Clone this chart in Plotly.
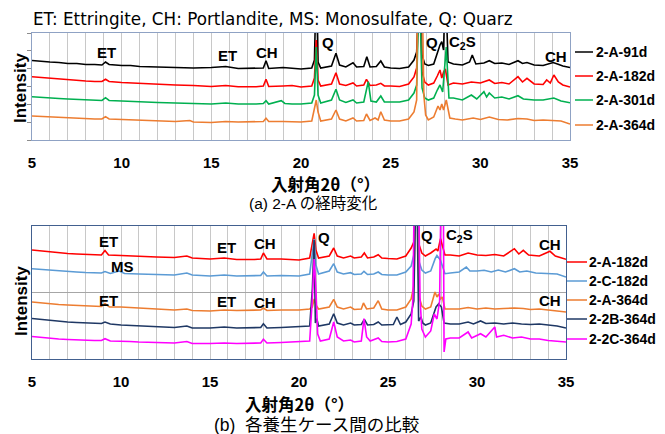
import plotly.graph_objects as go

# The page body has an 8 px margin, so the figure is drawn 8 px in from the
# window's top-left corner; all pixel positions below are window pixels.
PAGE_MARGIN = 8
WIN_W, WIN_H = 665, 434
W, H = WIN_W - PAGE_MARGIN, WIN_H - PAGE_MARGIN
FONT = "Liberation Sans, Arial, Noto Sans CJK JP, sans-serif"
JP_FONT = "Liberation Sans, Noto Sans CJK JP, sans-serif"
CJK_FONT = "Noto Sans CJK JP, sans-serif"

# ---------------- DATA : (2theta [deg], intensity [a.u.]) ----------------
# (a) 2-A, time evolution
A_NAMES = ["2-A-91d", "2-A-182d", "2-A-301d", "2-A-364d"]
A_91D = [(5.0,79.5),(5.5,78.5),(6.0,78),(6.5,77.5),(7.0,76.5),(7.5,76.5),(8.0,75.5),(8.5,75.5),(8.9,75),(9.1,78),(9.3,75.5),(10.0,74.5),(10.5,74.5),(11.0,73.5),(12.0,73),(13.0,72.5),(14.0,72),(15.0,72.5),(15.8,73.5),(16.5,71.5),(17.5,71.5),(17.9,72),(18.05,79.3),(18.2,71.5),(19.0,72.5),(19.5,71.5),(20.0,71),(20.6,72),(20.75,80),(20.85,160),(20.95,78),(21.1,72),(21.7,74),(21.95,86.7),(22.15,75),(22.5,73),(22.9,77.3),(23.1,73),(23.5,73.5),(23.67,83.3),(23.85,73),(24.2,73.5),(24.45,79),(24.65,73),(25.0,72),(25.5,71.5),(26.0,73),(26.3,80),(26.45,88),(26.6,160),(26.75,85),(26.9,76),(27.1,74.5),(27.4,76),(27.6,88),(27.75,95),(27.85,98.3),(27.95,90),(28.05,160),(28.2,78),(28.5,76),(29.0,75),(29.4,78),(29.55,85),(29.75,76),(30.2,77),(30.5,79.3),(30.8,76.5),(31.2,77),(31.6,75.5),(32.1,79.3),(32.35,76.5),(32.6,77.5),(33.0,75),(33.5,74.5),(34.06,77.5),(34.3,76),(34.6,74),(35.0,72.5)]
A_182D = [(5.0,63.3),(5.5,62.5),(6.0,61.5),(6.5,61),(7.0,60),(7.5,59.5),(8.0,59),(8.5,58.5),(8.9,58.5),(9.1,60.7),(9.3,58.5),(10.0,57.5),(10.5,57),(11.0,56.5),(12.0,55.5),(13.0,55),(14.0,54.5),(15.0,53.5),(15.8,54.5),(16.5,53.3),(17.5,53.3),(17.9,54),(18.05,60.7),(18.2,53.5),(19.0,54),(19.5,54.5),(20.0,53),(20.6,54),(20.75,62),(20.85,100),(20.95,60),(21.1,54),(21.7,56),(21.95,67.3),(22.15,56),(22.5,54.5),(22.9,57),(23.1,54),(23.5,55),(23.65,60.7),(23.85,54.5),(24.2,55),(24.45,56.7),(24.65,54),(25.0,54),(25.5,53.5),(26.0,56),(26.3,63),(26.45,72),(26.6,160),(26.75,68),(26.9,58),(27.1,55),(27.4,57),(27.6,64),(27.75,70),(27.85,62),(27.95,68),(28.05,71),(28.2,55),(28.5,57),(29.0,56),(29.5,58),(30.0,57),(30.5,60),(30.8,56.5),(31.2,57.5),(31.6,56),(32.1,63.3),(32.35,58),(32.6,61.7),(33.0,56),(33.5,55.5),(33.7,60),(33.9,57),(34.1,65),(34.35,58),(34.6,55),(35.0,53)]
A_301D = [(5.0,43.3),(5.5,42.5),(6.0,42),(6.5,41.5),(7.0,41),(7.5,40.5),(8.0,40),(8.5,39.5),(8.9,39.5),(9.1,42.3),(9.3,39.5),(10.0,39),(10.5,38.5),(11.0,38),(12.0,37.5),(13.0,37),(14.0,36.5),(15.0,36),(15.8,37),(16.5,36),(17.5,36),(17.9,36.5),(18.05,39.3),(18.2,36),(18.9,39.3),(19.1,36.5),(19.5,36),(20.0,36),(20.6,37),(20.75,45),(20.85,93),(20.95,45),(21.1,37),(21.7,40),(21.95,50.7),(22.15,40),(22.5,37.5),(22.9,40),(23.1,37),(23.5,38),(23.75,58.3),(23.9,39),(24.2,38),(24.45,44),(24.65,38),(25.0,38),(25.5,38),(26.0,40),(26.3,47),(26.45,55),(26.6,160),(26.75,52),(26.9,42),(27.1,40),(27.4,42),(27.6,50),(27.75,55),(27.9,48),(28.1,93),(28.25,42),(28.5,42),(29.0,40),(29.5,45),(29.8,41),(30.2,48.3),(30.35,43),(30.5,47),(30.8,42),(31.2,43),(31.6,41),(32.1,44.3),(32.4,41),(33.0,40),(33.5,40),(34.1,42),(34.5,39),(35.0,37.3)]
A_364D = [(5.0,24),(5.5,23.5),(6.0,23),(6.5,22.5),(7.0,22),(7.5,21.5),(8.0,21.5),(8.5,21),(8.9,21),(9.1,23.3),(9.3,21),(10.0,20.5),(10.5,20),(11.0,19.5),(12.0,19),(13.0,18.5),(13.8,19.5),(14.0,18),(15.0,17.5),(15.8,18.5),(16.5,18),(17.5,18),(17.9,18.5),(18.05,21.7),(18.2,18.5),(19.0,18.5),(20.0,18),(20.6,19),(20.75,30),(20.85,40),(20.95,28),(21.1,19),(21.7,21),(21.95,30),(22.15,21),(22.5,19),(22.9,22),(23.1,19),(23.5,19.5),(23.65,26),(23.85,19.5),(24.13,22),(24.3,20),(24.45,28.3),(24.65,20),(25.0,19),(25.5,19),(26.0,21),(26.3,28),(26.45,40),(26.5,160),(26.75,160),(26.85,45),(26.95,25),(27.1,20),(27.4,23),(27.64,34),(27.75,30),(27.85,36),(27.95,30),(28.1,40),(28.3,22),(28.6,21),(29.0,20),(29.6,22),(30.0,20.5),(30.5,23),(31.0,20.5),(31.5,20),(32.1,21.5),(32.6,21),(33.0,19.5),(33.5,20),(34.0,19.5),(34.5,19),(35.0,16)]

# (b) comparison between curing cases
B_NAMES = ["2-A-182d", "2-C-182d", "2-A-364d", "2-2B-364d", "2-2C-364d"]
B_A182D = [(5.0,109),(5.5,108),(6.0,107),(6.5,106.5),(7.0,105.5),(7.5,105),(8.0,104.5),(8.5,104),(8.9,104),(9.1,108.5),(9.3,104),(10.0,103.5),(10.5,103),(11.0,102.5),(12.0,102),(13.0,101.5),(13.7,103),(14.0,101),(15.0,100),(15.8,101),(16.5,99.5),(17.5,99.5),(17.85,100),(18.0,106),(18.2,100),(19.0,100),(20.0,99),(20.6,101),(20.75,114),(20.85,125.7),(20.95,109),(21.1,101),(21.7,103),(21.95,111),(22.15,103),(22.5,101),(22.9,103),(23.1,101),(23.5,102),(23.67,106),(23.85,101),(24.2,102),(24.45,104.3),(24.65,101),(25.0,100.5),(25.5,100),(26.0,103),(26.3,111),(26.45,117),(26.6,200),(26.75,114),(26.9,106),(27.1,103),(27.4,106),(27.7,110),(27.8,108),(27.95,120.3),(28.1,109),(28.2,104),(28.5,104),(29.0,103),(29.5,106),(30.0,104),(30.5,103.5),(31.0,104.5),(31.5,103),(32.1,110.3),(32.35,105),(32.6,108.7),(32.9,104),(33.5,103),(34.1,107.7),(34.4,103),(35.0,99.7)]
B_C182D = [(5.0,90.3),(5.5,89.5),(6.0,89),(6.5,88),(7.0,87.5),(7.5,87),(8.0,86.5),(8.5,86),(8.9,86),(9.1,87.5),(9.4,85.5),(9.9,88),(10.2,85.5),(11.0,85),(12.0,84.5),(13.0,84),(13.7,86),(14.0,84),(15.0,83),(15.8,84),(16.5,83),(17.5,83),(17.85,83.5),(18.0,87),(18.2,83),(19.0,83.5),(20.0,83),(20.6,85),(20.75,104),(20.85,120),(20.95,94),(21.1,85),(21.7,88),(21.95,95.3),(22.15,87),(22.5,85),(22.9,86.3),(23.1,84.5),(23.5,85),(23.65,87.7),(23.85,84.5),(24.2,85),(24.45,87),(24.65,84.5),(25.0,84),(25.5,84),(26.0,87),(26.3,93),(26.45,104),(26.6,200),(26.75,97),(26.9,89),(27.1,86),(27.4,88),(27.65,100.3),(27.75,103.5),(27.95,98.7),(28.1,91),(28.2,85.3),(28.5,86),(29.0,87),(29.4,92),(29.6,88),(30.0,88),(30.4,88.7),(30.8,87),(31.2,89),(31.6,87),(32.1,90.3),(32.4,87),(32.8,88),(33.3,86),(34.0,85.5),(34.5,85),(35.0,82)]
B_A364D = [(5.0,57),(5.5,56),(6.0,55.5),(6.5,54.5),(7.0,54),(7.5,53.5),(8.0,53),(8.5,52.5),(8.9,52.5),(9.1,55.5),(9.35,52),(10.0,52),(10.5,51.5),(11.0,51),(12.0,50),(13.0,49),(13.7,50),(14.0,48.5),(15.0,48),(15.8,49),(16.5,48.5),(17.5,48.5),(17.85,49),(18.0,51),(18.2,48.5),(19.0,49),(20.0,49),(20.6,50),(20.75,52),(20.85,60),(20.95,54),(21.1,50),(21.7,52),(21.95,59.7),(22.15,52),(22.5,50),(22.9,52),(23.1,49.5),(23.5,50),(23.62,56),(23.8,50),(24.2,51),(24.45,58.3),(24.65,50),(25.0,49),(25.5,49),(26.0,52),(26.3,60),(26.45,73),(26.6,200),(26.75,62),(26.9,53),(27.1,50),(27.4,52),(27.64,67),(27.75,62),(27.85,65),(27.95,60),(28.05,62),(28.2,50),(28.5,50),(29.0,50),(29.5,51.5),(30.0,50),(30.5,51),(31.0,50),(31.5,50.5),(32.1,51),(32.6,50.5),(33.0,49.5),(33.5,50),(34.0,49),(34.5,48.5),(35.0,47)]
B_2B364D = [(5.0,40.5),(5.5,39.5),(6.0,38.5),(6.5,37.5),(7.0,37),(7.5,36.5),(8.0,36),(8.5,35.5),(8.9,35.5),(9.1,37),(9.4,35),(10.0,34),(10.5,33.5),(11.0,33),(12.0,32),(13.0,31.5),(13.7,33),(14.0,31),(15.0,31),(15.8,32),(16.5,31),(17.5,31),(17.85,31.5),(18.0,35.3),(18.2,31),(19.0,31.5),(20.0,32),(20.6,33),(20.75,70),(20.85,119),(20.92,36),(21.0,40.3),(21.1,33),(21.7,35),(21.95,45.3),(22.15,36),(22.5,34),(22.9,36),(23.1,34),(23.5,34.5),(23.67,39.7),(23.85,34),(24.2,34.5),(24.45,37),(24.65,34),(25.0,34),(25.3,34.5),(25.5,42),(25.7,34.5),(26.0,37),(26.3,45),(26.45,58),(26.6,200),(26.72,38),(26.85,42),(26.95,36),(27.1,34),(27.4,36),(27.7,52),(27.85,55.3),(28.0,52),(28.15,36),(28.5,35),(29.0,35),(29.5,37),(29.8,35),(30.2,38),(30.5,35.5),(31.0,36),(31.5,35),(32.0,36),(32.5,35),(33.0,34.5),(33.5,35),(34.0,34),(34.5,33),(35.0,31)]
B_2C364D = [(5.0,22.5),(5.5,21.5),(6.0,21),(6.5,20),(7.0,19.5),(7.5,19),(8.0,19),(8.5,18.5),(8.9,18.5),(9.1,20.3),(9.4,18),(10.0,18),(10.5,17.5),(11.0,17),(12.0,16.5),(13.0,16),(13.7,17.5),(14.0,15.5),(15.0,15.5),(15.8,16),(16.5,15.5),(17.5,16),(17.85,16),(18.0,19.7),(18.2,16),(19.0,16.5),(20.0,17),(20.6,18),(20.75,60),(20.85,100),(20.95,70),(21.05,25),(21.2,18),(21.7,20),(21.95,37),(22.15,22),(22.5,18),(22.9,19),(23.1,17),(23.5,18),(23.65,40.3),(23.8,22),(24.0,18),(24.45,21),(24.65,17.5),(25.0,17),(25.5,17.5),(26.0,20),(26.3,35),(26.4,60),(26.5,200),(26.7,200),(26.8,60),(26.9,30),(27.1,22),(27.4,28),(27.6,45),(27.75,40),(27.9,58),(28.0,200),(28.1,200),(28.15,7),(28.25,20),(28.5,21),(29.0,21),(29.5,27),(29.7,21),(30.2,25.3),(30.5,22),(31.0,32),(31.1,22),(31.5,23.7),(32.0,21),(32.5,22),(33.0,20),(33.5,20),(34.0,18.5),(34.5,18),(35.0,17)]

X_TICKS = [5, 10, 15, 20, 25, 30, 35]

# ---------------- STYLE ----------------
A_COLORS = ["#000000", "#FF0000", "#00B050", "#ED7D31"]
B_COLORS = ["#FF0000", "#5B9BD5", "#ED7D31", "#1F3864", "#FF00FF"]

fig = go.Figure()

for name, col, data in zip(A_NAMES, A_COLORS, [A_91D, A_182D, A_301D, A_364D]):
    fig.add_trace(go.Scatter(x=[p[0] for p in data], y=[p[1] for p in data],
                             mode="lines", name=name, line=dict(color=col, width=1.6),
                             xaxis="x", yaxis="y", showlegend=False))
for name, col, data in zip(B_NAMES, B_COLORS, [B_A182D, B_C182D, B_A364D, B_2B364D, B_2C364D]):
    fig.add_trace(go.Scatter(x=[p[0] for p in data], y=[p[1] for p in data],
                             mode="lines", name=name, line=dict(color=col, width=1.6),
                             xaxis="x2", yaxis="y2", showlegend=False))

def px_x(x):
    return (x - PAGE_MARGIN) / W

def px_y(y):
    return 1 - (y - PAGE_MARGIN) / H

GRID = "#C8C8C8"
xcommon = dict(range=[5, 35], tickvals=X_TICKS, showgrid=True, gridcolor=GRID, gridwidth=1,
               minor=dict(dtick=1, tick0=5, showgrid=True, gridcolor=GRID, gridwidth=1),
               showline=True, mirror=True, linewidth=1, zeroline=False, ticks="",
               automargin=False,
               tickfont=dict(family=FONT, size=15, color="#000000", weight="bold"),
               ticklabelstandoff=9)

fig.update_layout(
    template="none",
    width=W, height=H, margin=dict(l=0, r=0, t=0, b=0, pad=0, autoexpand=False),
    paper_bgcolor="white", plot_bgcolor="white",
    xaxis=dict(domain=[px_x(32), px_x(570)], anchor="y", linecolor="#8FA2C4", **xcommon),
    yaxis=dict(domain=[px_y(140), px_y(33)], anchor="x", range=[0, 107], automargin=False,
               showgrid=False, zeroline=False, showline=True, mirror=True,
               linecolor="#8FA2C4", linewidth=1, showticklabels=False,
               ticks="outside", ticklen=4, tickcolor="#8C8C8C",
               tickmode="linear", tick0=0, dtick=107 / 6),
    xaxis2=dict(domain=[px_x(32), px_x(566)], anchor="y2", linecolor="#42608F", **xcommon),
    yaxis2=dict(domain=[px_y(359), px_y(226)], anchor="x2", range=[0, 133], automargin=False,
                showgrid=True, gridcolor="#A6A6A6", gridwidth=1, zeroline=False,
                showline=True, mirror=True, linecolor="#42608F", linewidth=1,
                showticklabels=False, ticks="", tickmode="linear", tick0=0, dtick=133 / 2),
)

ann = []
def text(x, y, t, size=15, bold=False, xanchor="center", family=FONT, **kw):
    ann.append(dict(x=x, y=y, text=t, showarrow=False, xanchor=xanchor, yanchor="middle",
                    font=dict(family=family, size=size, color="#000000",
                              weight="bold" if bold else "normal"), **kw))

# titles / captions (window pixel coordinates)
text(px_x(31), px_y(19), "ET: Ettringite, CH: Portlandite, MS: Monosulfate, Q: Quarz",
     size=16.8, xanchor="left", family="DejaVu Sans, sans-serif", xref="paper", yref="paper")
text(px_x(325), px_y(184), "入射角2θ（°）", size=16.5, bold=True, family=CJK_FONT, xref="paper", yref="paper")
text(px_x(313), px_y(203), "(a) 2-A の経時変化", size=15.5, family=JP_FONT, xref="paper", yref="paper")
text(px_x(299), px_y(404), "入射角2θ（°）", size=16.5, bold=True, family=CJK_FONT, xref="paper", yref="paper")
text(px_x(317), px_y(425), "(b)  各養生ケース間の比較", size=17.5, family=JP_FONT, xref="paper", yref="paper")
text(px_x(20), px_y(88), "Intensity", size=17, bold=True, textangle=-90, xref="paper", yref="paper")
text(px_x(21), px_y(301), "Intensity", size=17, bold=True, textangle=-90, xref="paper", yref="paper")

# phase labels (placed in data coordinates)
C2S = "C<sub>2</sub>S"
LABELS_A = [(9.17, 87.3, "ET"), (15.9, 84, "ET"), (18.1, 87.3, "CH"), (21.5, 97.3, "Q"),
            (27.3, 97.3, "Q"), (29.0, 97.3, C2S), (34.2, 83.3, "CH")]
LABELS_B = [(9.27, 117.3, "ET"), (10.1, 92.3, "MS"), (15.9, 111.3, "ET"), (18.1, 115, "CH"),
            (21.4, 121.7, "Q"), (27.2, 123.3, "Q"), (29.0, 123.3, C2S), (34.1, 114.7, "CH"),
            (9.27, 59, "ET"), (15.9, 57.3, "ET"), (18.1, 56.3, "CH"), (34.1, 58.3, "CH")]
for x, y, t in LABELS_A:
    text(x, y, t, size=15, bold=True, xref="x", yref="y")
for x, y, t in LABELS_B:
    text(x, y, t, size=15, bold=True, xref="x2", yref="y2")

# custom legends (right side)
shapes = []
LEG_A_Y = [52, 76, 100, 125]
for name, col, yy in zip(A_NAMES, A_COLORS, LEG_A_Y):
    shapes.append(dict(type="line", xref="paper", yref="paper", x0=px_x(575), x1=px_x(593),
                       y0=px_y(yy), y1=px_y(yy), line=dict(color=col, width=1.5)))
    text(px_x(594), px_y(yy), name, size=14, bold=True, xanchor="left", xref="paper", yref="paper")
LEG_B_Y = [262, 281, 300, 319, 339]
for name, col, yy in zip(B_NAMES, B_COLORS, LEG_B_Y):
    shapes.append(dict(type="line", xref="paper", yref="paper", x0=px_x(567), x1=px_x(587),
                       y0=px_y(yy), y1=px_y(yy), line=dict(color=col, width=1.5)))
    text(px_x(587), px_y(yy), name, size=14, bold=True, xanchor="left", xref="paper", yref="paper")

fig.update_layout(annotations=ann, shapes=shapes)
fig.write_html("out.html")
